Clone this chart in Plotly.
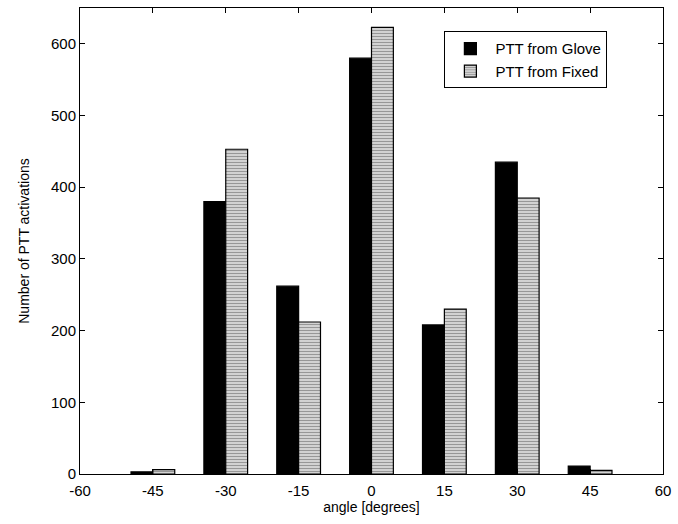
import plotly.graph_objects as go

angles = [-45, -30, -15, 0, 15, 30, 45]
glove = [3, 380, 262, 580, 208, 435, 11]
fixed = [6, 453, 212, 623, 230, 385, 5]
x_ticks = [-60, -45, -30, -15, 0, 15, 30, 45, 60]
y_ticks = [0, 100, 200, 300, 400, 500, 600]

FONT = "Liberation Sans Narrow, Arial Narrow, Liberation Sans, Arial"

fig = go.Figure()
fig.add_trace(go.Bar(
    x=angles, y=glove, name="PTT from Glove",
    marker=dict(color="black", line=dict(color="black", width=1.2)),
))
fig.add_trace(go.Bar(
    x=angles, y=fixed, name="PTT from Fixed",
    marker=dict(color="#c8c8c8", line=dict(color="black", width=1.2),
                pattern=dict(shape="-", fgcolor="#555555", bgcolor="#d8d8d8",
                             size=3, solidity=0.4)),
))

fig.update_layout(
    width=678, height=524,
    margin=dict(l=80, r=15, t=8, b=50),
    paper_bgcolor="white", plot_bgcolor="white",
    barmode="group", bargap=0.4, bargroupgap=0,
    font=dict(family=FONT, size=14, color="black"),
    showlegend=True,
    legend=dict(
        x=0.625, y=0.95, xanchor="left", yanchor="top",
        bgcolor="white", bordercolor="black", borderwidth=1,
        font=dict(family=FONT, size=15),
        itemwidth=40, tracegroupgap=2,
    ),
    xaxis=dict(
        range=[-60, 60], tickvals=x_ticks, ticktext=[str(v) for v in x_ticks],
        showgrid=False, zeroline=False, showline=True, linecolor="black",
        linewidth=1, mirror="ticks", ticks="inside", ticklen=5,
        tickcolor="black", ticklabelstandoff=3,
        title=dict(text="angle [degrees]", font=dict(family=FONT, size=14), standoff=2),
        tickfont=dict(family=FONT, size=15),
    ),
    yaxis=dict(
        range=[0, 650], tickvals=y_ticks, ticktext=[str(v) for v in y_ticks],
        showgrid=False, zeroline=False, showline=True, linecolor="black",
        linewidth=1, mirror="ticks", ticks="inside", ticklen=5,
        tickcolor="black",
        title=dict(text="Number of PTT activations", font=dict(family=FONT, size=14), standoff=18),
        tickfont=dict(family=FONT, size=15),
    ),
)

fig.write_html("out.html")
